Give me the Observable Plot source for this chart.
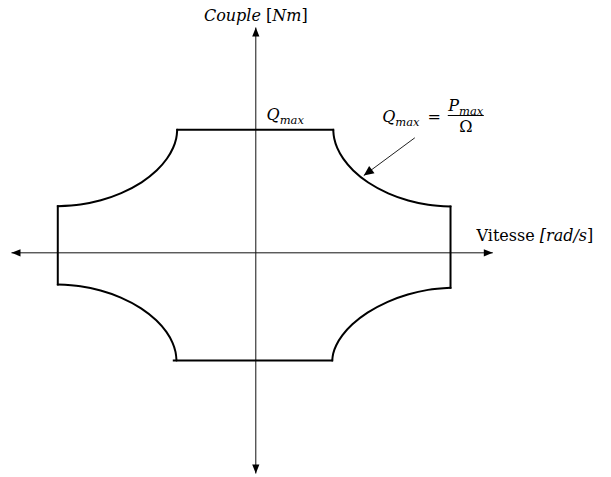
<!DOCTYPE html>
<html>
<head>
<meta charset="utf-8">
<script src="https://cdn.jsdelivr.net/npm/d3@7"></script>
<script src="https://cdn.jsdelivr.net/npm/@observablehq/plot@0.6"></script>
<style>
  html, body { margin: 0; padding: 0; background: #fff; }
</style>
</head>
<body>
<div id="chart"></div>
<script>
// ---- Data (arbitrary units: Ω in rad/s, Q in Nm, schematic) ----
// Curve north-east (constant power region, forward motoring)
const curveNEOmega  = [1.988, 2.014, 2.091, 2.245, 2.502, 2.887, 3.400, 3.914, 4.427, 5.0];
const curveNETorque = [3.0, 2.787, 2.560, 2.297, 2.009, 1.715, 1.450, 1.276, 1.172, 1.129];
// Curve south-east
const curveSEOmega  = [1.962, 1.988, 2.066, 2.221, 2.480, 2.869, 3.387, 3.904, 4.422, 5.0];
const curveSETorque = [-2.627, -2.453, -2.254, -2.013, -1.743, -1.459, -1.196, -1.017, -0.904, -0.854];
// Curve south-west
const curveSWOmega  = [-2.036, -2.062, -2.140, -2.296, -2.556, -2.946, -3.466, -3.986, -4.505, -5.085];
const curveSWTorque = [-2.627, -2.416, -2.191, -1.930, -1.645, -1.353, -1.091, -0.919, -0.815, -0.773];
// Curve north-west
const curveNWOmega  = [-2.018, -2.044, -2.123, -2.280, -2.541, -2.933, -3.456, -3.979, -4.502, -5.085];
const curveNWTorque = [3.0, 2.788, 2.562, 2.300, 2.013, 1.720, 1.457, 1.283, 1.180, 1.137];

// Straight edges: top (Q_max), right (Ω max), bottom, left
const edgeOmegaStart  = [-2.018, 5.0, 1.962, -5.085];
const edgeOmegaEnd    = [1.988, 5.0, -2.106, -5.085];
const edgeTorqueStart = [3.0, 1.129, -2.627, -0.773];
const edgeTorqueEnd   = [3.0, -0.854, -2.627, 1.137];

// Axes extents
const axisOmegaExtent  = [-6.274, 6.086];
const axisTorqueExtent = [-5.383, 5.495];

// Annotation arrow (from formula to curve)
const noteFromOmega = 4.083, noteFromTorque = 2.805;
const noteToOmega = 2.773, noteToTorque = 1.885;

// Fraction bar of the formula
const fracOmega = [4.93, 5.855];
const fracTorque = 3.349;

// Labels ( _{..} subscript, ~..~ upright, otherwise italic )
const startLabels = ["~Vitesse ~[rad/s~]~", "Q_{max}", "Q_{max}~\u2002=~"];
const startLabelOmega = [5.668, 0.275, 3.246];
const startLabelTorque = [0.300, 3.251, 3.202];
const centerLabels = ["Couple ~[~Nm~]~", "P_{max}", "~Ω~"];
const centerLabelOmega = [0, 5.393, 5.393];
const centerLabelTorque = [5.654, 3.459, 2.946];

// ---- Build tables ----
const curves = [
  ["NE", curveNEOmega, curveNETorque],
  ["SE", curveSEOmega, curveSETorque],
  ["SW", curveSWOmega, curveSWTorque],
  ["NW", curveNWOmega, curveNWTorque]
].flatMap(([seg, xs, ys]) => xs.map((x, i) => ({seg, omega: x, torque: ys[i]})));

const edges = edgeOmegaStart.map((x, i) => ({
  x1: x, x2: edgeOmegaEnd[i], y1: edgeTorqueStart[i], y2: edgeTorqueEnd[i]
}));

const startTable = startLabels.map((t, i) => ({t, x: startLabelOmega[i], y: startLabelTorque[i]}));
const centerTable = centerLabels.map((t, i) => ({t, x: centerLabelOmega[i], y: centerLabelTorque[i]}));

const W = 611, H = 477;
const xDomain = [-6.556, 9.134];
const yDomain = [-5.480, 6.154];
const kx = W / (xDomain[1] - xDomain[0]);
const ky = H / (yDomain[1] - yDomain[0]);

// Filled triangular arrow head whose tip is at the anchor point, pointing along (ux, uy) in screen space
function headSymbol(ux, uy, len = 9, half = 3.6) {
  const n = Math.hypot(ux, uy); ux /= n; uy /= n;
  const px = -uy, py = ux;
  return {
    draw(ctx) {
      ctx.moveTo(0, 0);
      ctx.lineTo(-ux * len + px * half, -uy * len + py * half);
      ctx.lineTo(-ux * len - px * half, -uy * len - py * half);
      ctx.closePath();
    }
  };
}

const noteDir = [(noteToOmega - noteFromOmega) * kx, -(noteToTorque - noteFromTorque) * ky];

const FONT = "'DejaVu Serif', 'Liberation Serif', serif";
const FS = 16;

const plot = Plot.plot({
  width: W,
  height: H,
  margin: 0,
  x: {domain: xDomain, axis: null},
  y: {domain: yDomain, axis: null},
  style: {background: "#fff", overflow: "visible"},
  marks: [
    // axes
    Plot.link([{x1: axisOmegaExtent[0], x2: axisOmegaExtent[1], y: 0}],
      {x1: "x1", x2: "x2", y1: "y", y2: "y", stroke: "#111", strokeWidth: 1}),
    Plot.link([{y1: axisTorqueExtent[0], y2: axisTorqueExtent[1], x: 0}],
      {x1: "x", x2: "x", y1: "y1", y2: "y2", stroke: "#111", strokeWidth: 1}),
    Plot.dot([{x: axisOmegaExtent[1], y: 0}], {x: "x", y: "y", symbol: headSymbol(1, 0), fill: "#000", stroke: "none"}),
    Plot.dot([{x: axisOmegaExtent[0], y: 0}], {x: "x", y: "y", symbol: headSymbol(-1, 0), fill: "#000", stroke: "none"}),
    Plot.dot([{x: 0, y: axisTorqueExtent[1]}], {x: "x", y: "y", symbol: headSymbol(0, -1), fill: "#000", stroke: "none"}),
    Plot.dot([{x: 0, y: axisTorqueExtent[0]}], {x: "x", y: "y", symbol: headSymbol(0, 1), fill: "#000", stroke: "none"}),
    // operating envelope
    Plot.line(curves, {x: "omega", y: "torque", z: "seg", curve: "catmull-rom",
      stroke: "#000", strokeWidth: 2}),
    Plot.link(edges, {x1: "x1", x2: "x2", y1: "y1", y2: "y2",
      stroke: "#000", strokeWidth: 2, strokeLinecap: "square"}),
    // annotation arrow
    Plot.link([{x1: noteFromOmega, y1: noteFromTorque, x2: noteToOmega, y2: noteToTorque}],
      {x1: "x1", x2: "x2", y1: "y1", y2: "y2", stroke: "#222", strokeWidth: 1}),
    Plot.dot([{x: noteToOmega, y: noteToTorque}],
      {x: "x", y: "y", symbol: headSymbol(noteDir[0], noteDir[1], 10, 4.5), fill: "#000", stroke: "none"}),
    // fraction bar
    Plot.link([{x1: fracOmega[0], x2: fracOmega[1], y: fracTorque}],
      {x1: "x1", x2: "x2", y1: "y", y2: "y", stroke: "#000", strokeWidth: 1}),
    // labels
    Plot.text(startTable, {x: "x", y: "y", text: "t", textAnchor: "start", lineAnchor: "bottom",
      fontFamily: FONT, fontSize: FS, fontStyle: "italic", fill: "#000"}),
    Plot.text(centerTable, {x: "x", y: "y", text: "t", textAnchor: "middle", lineAnchor: "bottom",
      fontFamily: FONT, fontSize: FS, fontStyle: "italic", fill: "#000"})
  ]
});

document.getElementById("chart").appendChild(plot);

// Rich text: _{..} subscripts, ~..~ upright segments
const NS = "http://www.w3.org/2000/svg";
d3.select(plot).selectAll("text").each(function () {
  const raw = this.textContent;
  if (!/[_~]/.test(raw)) return;
  const base = FS;
  const subShift = base * 0.28;
  this.textContent = "";
  let shift = 0;
  const re = /_\{([^}]*)\}|~([^~]*)~|([^_~]+)/g;
  let m;
  while ((m = re.exec(raw))) {
    const ts = document.createElementNS(NS, "tspan");
    if (m[1] !== undefined) {
      ts.textContent = m[1];
      ts.setAttribute("font-size", (base * 0.72) + "px");
      ts.setAttribute("dy", (subShift - shift));
      shift = subShift;
    } else {
      ts.textContent = m[2] !== undefined ? m[2] : m[3];
      if (m[2] !== undefined) ts.setAttribute("font-style", "normal");
      if (shift) ts.setAttribute("dy", -shift);
      shift = 0;
    }
    this.appendChild(ts);
  }
});
</script>
</body>
</html>
